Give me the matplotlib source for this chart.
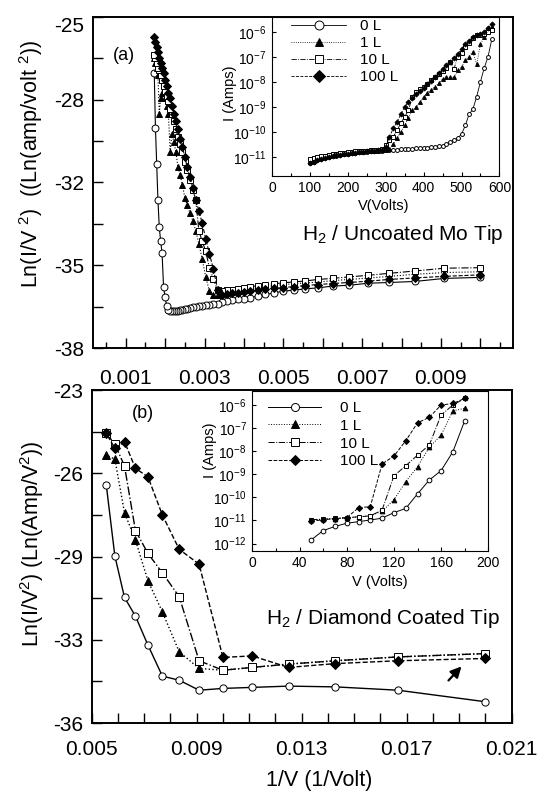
import numpy as np
import matplotlib
matplotlib.use("Agg")
import matplotlib.pyplot as plt
from matplotlib.ticker import FixedLocator

plt.rcParams['font.family'] = ['Liberation Sans', 'DejaVu Sans']
plt.rcParams['mathtext.fontset'] = 'custom'
plt.rcParams['mathtext.rm'] = 'Liberation Sans'
plt.rcParams['mathtext.it'] = 'Liberation Sans:italic'
plt.rcParams['mathtext.default'] = 'regular'

# ---------------- data ----------------
series_names = ["0 L", "1 L", "10 L", "100 L"]

# (a) uncoated Mo tip, voltage sweep
volts_a = [100, 110, 120, 130, 140, 150, 160, 170, 180, 190,
           200, 210, 220, 230, 240, 250, 260, 270, 280, 290,
           300, 310, 320, 330, 340, 350, 360, 370, 380, 390,
           400, 410, 420, 430, 440, 450, 460, 470, 480, 490,
           500, 510, 520, 530, 540, 550, 560, 570, 580]

# Ln(I/V^2) in the main plot of (a)
fn_a_0 = [-35.22, -35.26, -35.38, -35.42, -35.45, -35.53, -35.56, -35.63, -35.67, -35.72,
          -35.76, -35.83, -35.89, -35.95, -36.02, -36.05, -36.08, -36.10, -36.15, -36.20,
          -36.25, -36.27, -36.30, -36.32, -36.34, -36.36, -36.38, -36.40, -36.42, -36.45,
          -36.46, -36.48, -36.50, -36.52, -36.53, -36.55, -36.55, -36.55, -36.50, -36.35,
          -36.00, -35.60, -34.28, -33.80, -33.26, -32.20, -30.76, -29.35, -27.20]
fn_a_1 = [-35.00, -35.03, -35.10, -35.18, -35.25, -35.30, -35.35, -35.40, -35.44, -35.47,
          -35.50, -35.54, -35.58, -35.62, -35.66, -35.70, -35.74, -35.78, -35.82, -35.86,
          -35.90, -35.92, -35.76, -35.20, -34.50, -33.90, -33.40, -33.00, -32.70, -32.40,
          -32.10, -31.60, -31.20, -30.90, -30.30, -29.90, -29.60, -30.30, -28.80, -28.50,
          -28.20, -28.00, -28.00, -28.20, -28.80, -27.30, -27.00, -26.80, -26.60]
fn_a_10 = [-34.84, -34.86, -34.97, -35.06, -35.14, -35.20, -35.26, -35.30, -35.36, -35.40,
           -35.43, -35.47, -35.50, -35.55, -35.58, -35.62, -35.67, -35.70, -35.73, -35.76,
           -35.72, -35.30, -34.84, -34.20, -33.80, -33.40, -32.20, -31.80, -31.40, -31.00,
           -30.70, -30.30, -30.00, -29.70, -29.40, -29.10, -28.80, -28.60, -28.30, -28.10,
           -27.90, -27.70, -27.50, -27.30, -27.10, -27.00, -26.80, -26.60, -26.50]
fn_a_100 = [-35.12, -35.18, -35.24, -35.30, -35.37, -35.42, -35.46, -35.50, -35.54, -35.58,
            -35.62, -35.65, -35.68, -35.72, -35.75, -35.78, -35.82, -35.85, -35.88, -35.90,
            -35.70, -34.90, -34.30, -33.70, -33.10, -32.60, -32.20, -31.70, -31.30, -30.90,
            -30.50, -30.10, -29.80, -29.40, -29.10, -28.80, -28.50, -28.20, -28.00, -27.70,
            -27.50, -27.20, -27.00, -26.80, -26.60, -26.40, -26.20, -26.00, -25.80]

# log10 of current (Amps) in the inset of (a)
logi_a_0 = [-11.25, -11.20, -11.15, -11.10, -11.06, -11.02, -10.99, -10.96, -10.93, -10.91,
            -10.89, -10.87, -10.85, -10.83, -10.82, -10.80, -10.79, -10.78, -10.77, -10.76,
            -10.75, -10.74, -10.73, -10.72, -10.71, -10.70, -10.69, -10.68, -10.67, -10.66,
            -10.65, -10.64, -10.63, -10.61, -10.59, -10.56, -10.50, -10.43, -10.35, -10.25,
            -10.10, -9.75, -9.30, -9.10, -8.60, -8.00, -7.45, -7.00, -6.30]
logi_a_1 = [-11.20, -11.15, -11.10, -11.06, -11.02, -10.98, -10.95, -10.92, -10.90, -10.88,
            -10.86, -10.84, -10.82, -10.81, -10.80, -10.79, -10.78, -10.77, -10.76, -10.74,
            -10.72, -10.68, -10.50, -10.25, -10.00, -9.75, -9.45, -9.15, -9.00, -8.82,
            -8.60, -8.45, -8.32, -8.20, -8.05, -7.90, -7.82, -7.82, -7.82, -7.55,
            -7.40, -7.15, -7.00, -6.80, -7.30, -6.50, -6.20, -5.95, -5.80]
logi_a_10 = [-11.10, -11.06, -11.02, -10.99, -10.96, -10.93, -10.90, -10.88, -10.86, -10.84,
             -10.82, -10.80, -10.79, -10.78, -10.77, -10.76, -10.75, -10.74, -10.73, -10.70,
             -10.55, -10.35, -10.20, -9.95, -9.65, -9.40, -9.15, -8.60, -8.42, -8.30,
             -8.20, -8.08, -7.95, -7.82, -7.70, -7.58, -7.45, -7.20, -7.50, -7.00,
             -6.85, -6.60, -6.45, -6.25, -6.15, -6.12, -6.10, -6.00, -5.95]
logi_a_100 = [-11.25, -11.20, -11.15, -11.10, -11.06, -11.02, -10.98, -10.95, -10.92, -10.90,
              -10.88, -10.86, -10.84, -10.82, -10.80, -10.79, -10.78, -10.76, -10.75, -10.73,
              -10.60, -10.20, -9.86, -9.60, -9.30, -9.00, -8.80, -8.65, -8.50, -8.36,
              -8.24, -8.10, -7.96, -7.80, -7.65, -7.50, -7.35, -7.20, -7.05, -6.90,
              -6.70, -6.50, -6.37, -6.20, -6.12, -6.08, -6.00, -5.85, -5.70]

# (b) diamond coated tip
volts_b = [50, 60, 70, 80, 90, 100, 110, 120, 130, 140, 150, 160, 170, 180]
fn_b_0 = [-35.17, -34.72, -34.59, -34.56, -34.61, -34.65, -34.72,
          -34.33, -34.17, -32.96, -31.83, -31.10, -29.48, -26.71]
fn_b_1 = [-33.29, -33.42, -33.57, -33.70, -33.83, -33.94, -33.87,
          -33.22, -31.66, -30.45, -28.86, -27.79, -25.70, -25.54]
fn_b_10 = [-33.29, -33.42, -33.57, -33.70, -33.83, -33.94, -33.57,
           -31.07, -30.14, -29.38, -28.49, -25.97, -25.11, -24.69]
fn_b_100 = [-33.48, -33.57, -33.68, -33.83, -33.38, -33.44, -29.80,
            -29.22, -27.88, -26.39, -26.06, -25.02, -25.28, -24.69]

logi_b_0 = [-11.84, -11.44, -11.26, -11.12, -11.05, -10.98, -10.90,
            -10.66, -10.48, -9.85, -9.25, -8.84, -8.02, -6.68]
logi_b_1 = [-10.98, -10.95, -10.92, -10.88, -10.85, -10.80, -10.60,
            -10.11, -9.32, -8.67, -7.83, -7.30, -6.25, -6.14]
logi_b_10 = [-10.97, -10.94, -10.91, -10.88, -10.84, -10.80, -10.55,
             -9.07, -8.63, -8.17, -7.73, -6.43, -6.00, -5.71]
logi_b_100 = [-11.03, -10.97, -10.92, -10.88, -10.45, -10.40, -8.55,
              -8.21, -7.55, -6.77, -6.53, -6.00, -5.93, -5.71]

# tick labels as printed on the original
ytick_labels_a = ['-38', '-35', '-32', '-28', '-25']
ytick_labels_b = ['-36', '-33', '-29', '-26', '-23']
xtick_labels_a = ['0.001', '', '0.003', '', '0.005', '', '0.007', '', '0.009', '']
xtick_labels_b = ['0.005', '', '', '', '0.009', '', '', '', '0.013', '', '', '',
                  '0.017', '', '', '', '0.021']

arrow_tail = (0.01852, -34.42)
arrow_head = (0.01916, -33.71)

# ---------------- styles ----------------
markers = ['o', '^', 's', 'D']
faces = ['white', 'black', 'white', 'black']
lstyles = ['-', ':', '-.', '--']

W, H = 542.0, 791.0


def px_axes(fig, left, top, right, bottom):
    return fig.add_axes([left / W, 1 - bottom / H, (right - left) / W, (bottom - top) / H])


def draw_series(ax, xs, ys_list, ms, lw, main=True):
    for i, ys in enumerate(ys_list):
        yy = ys if main else [10.0 ** v for v in ys]
        ax.plot(xs, yy, color='black', linestyle=lstyles[i], linewidth=lw,
                marker=markers[i], markersize=ms if markers[i] != 'D' else ms * 0.9,
                markerfacecolor=faces[i], markeredgecolor='black', markeredgewidth=0.7,
                label=series_names[i], zorder=3 + i)


fig = plt.figure(figsize=(W / 100, H / 100), dpi=100)

# ---------------- panel (a) ----------------
ax1 = px_axes(fig, 92.7, 16.7, 512.7, 348.3)
inv_a = [1.0 / v for v in volts_a]
draw_series(ax1, inv_a, [fn_a_0, fn_a_1, fn_a_10, fn_a_100], 5, 0.8)
ax1.set_xlim(0.000162, 0.010822)
ax1.set_ylim(-38, -25)
ax1.yaxis.set_major_locator(FixedLocator(np.linspace(-38, -25, 5)))
ax1.yaxis.set_minor_locator(FixedLocator(np.linspace(-38, -25, 9)))
ax1.set_yticklabels(ytick_labels_a)
ax1.get_yticklabels()[-1].set_va('top')
ax1.xaxis.set_major_locator(FixedLocator(np.arange(1, 11) * 0.001))
ax1.xaxis.set_minor_locator(FixedLocator(np.arange(1, 22) * 0.0005))
ax1.set_xticklabels(xtick_labels_a)
ax1.tick_params(axis='both', which='both', direction='in', top=False, right=False, width=1)
ax1.tick_params(axis='y', which='both', length=7, pad=6, labelsize=15)
ax1.tick_params(axis='x', which='major', length=7, pad=15, labelsize=15)
ax1.tick_params(axis='x', which='minor', length=4)
for s in ax1.spines.values():
    s.set_linewidth(1.4)
ax1.set_ylabel('Ln(I/V $^{2}$)  ((Ln(amp/volt $^{2}$))', fontsize=15.5)
ax1.yaxis.set_label_coords(-0.114, 0.557)
ax1.text(124 / W, 1 - 55 / H, '(a)', transform=fig.transFigure, fontsize=13,
         ha='center', va='center')

# inset (a)
ins1 = px_axes(fig, 272, 16.7, 499.4, 175.5)
ins1.set_facecolor('white')
ins1.set_zorder(5)
draw_series(ins1, volts_a, [logi_a_0, logi_a_1, logi_a_10, logi_a_100], 2.8, 0.6, main=False)
ins1.set_yscale('log')
ins1.set_xlim(0, 600)
ins1.set_ylim(10 ** -11.75, 10 ** -5.4)
ins1.set_yticks([1e-11, 1e-10, 1e-9, 1e-8, 1e-7, 1e-6])
ins1.yaxis.set_minor_locator(FixedLocator([]))
ins1.set_xticks([0, 100, 200, 300, 400, 500, 600])
ins1.xaxis.set_minor_locator(FixedLocator([50, 150, 250, 350, 450, 550]))
ins1.tick_params(axis='both', which='both', direction='in', top=False, right=False,
                 labelsize=10, width=0.8)
ins1.tick_params(which='major', length=3, pad=4)
ins1.tick_params(which='minor', length=2)
ins1.set_xlabel('V(Volts)', fontsize=10.5)
ins1.xaxis.set_label_coords(0.49, -0.145)
ins1.set_ylabel('I (Amps)', fontsize=10.5)
ins1.yaxis.set_label_coords(-0.155, 0.52)
ins1.legend(loc='upper left', bbox_to_anchor=(291 / W, 1 - 19 / H), bbox_transform=fig.transFigure,
            frameon=False, fontsize=11, handlelength=3.6, handletextpad=0.9,
            labelspacing=0.2, borderpad=0, borderaxespad=0, markerscale=2.3, numpoints=1)

fig.text(503 / W, 1 - 240.5 / H, 'H$_2$ / Uncoated Mo Tip', fontsize=15,
         ha='right', va='baseline')

# ---------------- panel (b) ----------------
ax2 = px_axes(fig, 91.7, 390, 511.7, 723)
inv_b = [1.0 / v for v in volts_b]
draw_series(ax2, inv_b, [fn_b_0, fn_b_1, fn_b_10, fn_b_100], 5.2, 1.0)
ax2.set_xlim(0.005, 0.021)
ax2.set_ylim(-36, -23)
ax2.yaxis.set_major_locator(FixedLocator(np.linspace(-36, -23, 5)))
ax2.yaxis.set_minor_locator(FixedLocator(np.linspace(-36, -23, 9)))
ax2.set_yticklabels(ytick_labels_b)
ax2.xaxis.set_major_locator(FixedLocator(np.linspace(0.005, 0.021, 17)))
ax2.set_xticklabels(xtick_labels_b)
ax2.tick_params(axis='both', which='both', direction='in', top=False, right=False, width=1)
ax2.tick_params(axis='y', which='both', length=7, pad=6, labelsize=15)
ax2.tick_params(axis='x', which='major', length=7, pad=12, labelsize=15)
for s in ax2.spines.values():
    s.set_linewidth(1.4)
ax2.set_ylabel('Ln(I/V$^2$) (Ln(Amp/V$^2$))', fontsize=15.5)
ax2.yaxis.set_label_coords(-0.108, 0.539)
ax2.set_xlabel('1/V (1/Volt)', fontsize=15.5)
ax2.xaxis.set_label_coords(0.542, -0.14)
ax2.text(143 / W, 1 - 413 / H, '(b)', transform=fig.transFigure, fontsize=13,
         ha='center', va='center')
ax2.annotate('', xy=arrow_head, xytext=arrow_tail,
             arrowprops=dict(arrowstyle='-|>', color='black', lw=1.6, mutation_scale=16))

# inset (b)
ins2 = px_axes(fig, 252.3, 391, 488.3, 550.7)
ins2.set_facecolor('white')
ins2.set_zorder(5)
draw_series(ins2, volts_b, [logi_b_0, logi_b_1, logi_b_10, logi_b_100], 3.4, 0.7, main=False)
ins2.set_yscale('log')
ins2.set_xlim(0, 200)
ins2.set_ylim(10 ** -12.31, 10 ** -5.39)
ins2.set_yticks([1e-12, 1e-11, 1e-10, 1e-9, 1e-8, 1e-7, 1e-6])
ins2.yaxis.set_minor_locator(FixedLocator([]))
ins2.set_xticks([0, 40, 80, 120, 160, 200])
ins2.xaxis.set_minor_locator(FixedLocator([20, 60, 100, 140, 180]))
ins2.tick_params(axis='both', which='both', direction='in', top=False, right=False,
                 labelsize=10, width=0.8)
ins2.tick_params(which='major', length=3, pad=4)
ins2.tick_params(which='minor', length=2)
ins2.set_xlabel('V (Volts)', fontsize=10.5)
ins2.xaxis.set_label_coords(0.54, -0.15)
ins2.set_ylabel('I (Amps)', fontsize=10.5)
ins2.yaxis.set_label_coords(-0.15, 0.63)
ins2.legend(loc='upper left', bbox_to_anchor=(268 / W, 1 - 401 / H), bbox_transform=fig.transFigure,
            frameon=False, fontsize=11, handlelength=3.5, handletextpad=1.2,
            labelspacing=0.25, borderpad=0, borderaxespad=0, markerscale=1.7, numpoints=1)

fig.text(500 / W, 1 - 624.5 / H, 'H$_2$ / Diamond Coated Tip', fontsize=15,
         ha='right', va='baseline')

fig.savefig('out.png', dpi=100)
